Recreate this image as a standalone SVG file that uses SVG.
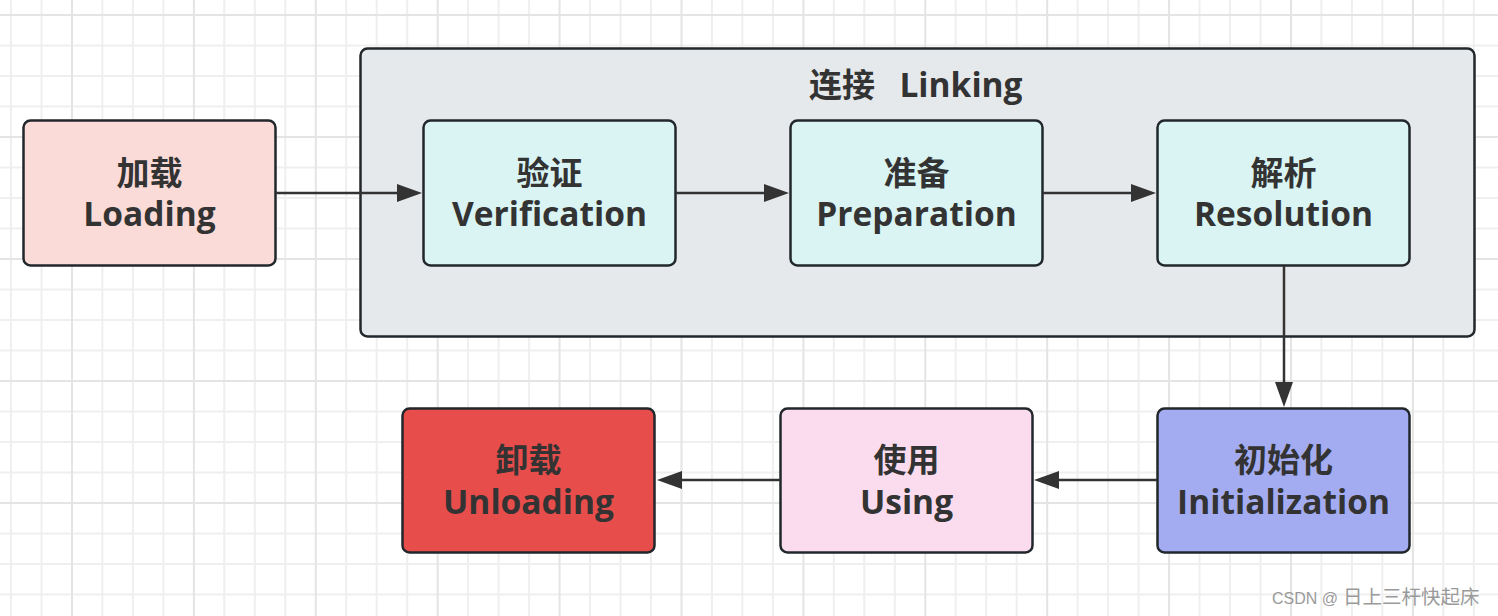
<svg xmlns="http://www.w3.org/2000/svg" width="1498" height="616" viewBox="0 0 1498 616">
<style>
.minor{stroke:#efefef;stroke-width:2;fill:none}
.major{stroke:#e4e4e4;stroke-width:2;fill:none}
.box{stroke:#22272b;stroke-width:2.5}
.t{font-family:"Open Sans","Noto Sans CJK SC",sans-serif;font-weight:700;font-size:33.5px;fill:#333333;text-anchor:middle}
.c{font-family:"Noto Sans CJK SC",sans-serif;font-weight:700;font-size:33px;fill:#333333;text-anchor:middle}
.conn{stroke:#333333;stroke-width:2.5;fill:none}
.wm{font-family:"Liberation Sans","Noto Sans CJK SC",sans-serif;font-size:16px;fill:#9a9a9a}
.wmc{font-family:"Noto Sans CJK SC",sans-serif;font-size:19.5px}
</style>
<defs>
<marker id="ah" markerUnits="userSpaceOnUse" markerWidth="26" markerHeight="20" viewBox="0 0 26 20" refX="1" refY="10" orient="auto">
<path d="M0,1 L25,10 L0,19 z" fill="#333333"/>
</marker>
</defs>
<rect width="1498" height="616" fill="#ffffff"/>
<g id="grid">
<path class="minor" d="M11,0V616M41.5,0V616M102.4,0V616M132.9,0V616M163.4,0V616M224.3,0V616M254.8,0V616M285.3,0V616M346.2,0V616M376.7,0V616M407.2,0V616M468.1,0V616M498.6,0V616M529.1,0V616M590,0V616M620.5,0V616M651,0V616M711.9,0V616M742.4,0V616M772.9,0V616M833.8,0V616M864.3,0V616M894.8,0V616M955.7,0V616M986.2,0V616M1016.7,0V616M1077.6,0V616M1108.1,0V616M1138.6,0V616M1199.5,0V616M1230,0V616M1260.5,0V616M1321.4,0V616M1351.9,0V616M1382.4,0V616M1443.3,0V616M1473.8,0V616M0,45.5H1498M0,76H1498M0,106.5H1498M0,167.5H1498M0,198H1498M0,228.5H1498M0,289.5H1498M0,320H1498M0,350.5H1498M0,411.5H1498M0,442H1498M0,472.5H1498M0,533.5H1498M0,564H1498M0,594.5H1498"/>
<path class="major" d="M72,0V616M193.9,0V616M315.8,0V616M437.7,0V616M559.6,0V616M681.5,0V616M803.4,0V616M925.3,0V616M1047.2,0V616M1169.1,0V616M1291,0V616M1412.9,0V616M0,15H1498M0,137H1498M0,259H1498M0,381H1498M0,503H1498"/>
</g>
<g id="linking">
<rect class="box" x="360.5" y="48.5" width="1114" height="288" rx="7" fill="#e6e9ec"/>
<text class="c" x="842" y="97">连接</text>
<text class="t" x="961" y="97">Linking</text>
</g>
<g id="loading">
<rect class="box" x="23.5" y="120.5" width="252" height="145" rx="7" fill="#fadbd8"/>
<text class="c" x="149.5" y="185">加载</text>
<text class="t" x="149.5" y="226">Loading</text>
</g>
<g id="verification">
<rect class="box" x="423.5" y="120.5" width="252" height="145" rx="7" fill="#d9f4f3"/>
<text class="c" x="549.5" y="185">验证</text>
<text class="t" x="549.5" y="226">Verification</text>
</g>
<g id="preparation">
<rect class="box" x="790.5" y="120.5" width="252" height="145" rx="7" fill="#d9f4f3"/>
<text class="c" x="916.5" y="185">准备</text>
<text class="t" x="916.5" y="226">Preparation</text>
</g>
<g id="resolution">
<rect class="box" x="1157.5" y="120.5" width="252" height="145" rx="7" fill="#d9f4f3"/>
<text class="c" x="1283.5" y="185">解析</text>
<text class="t" x="1283.5" y="226">Resolution</text>
</g>
<g id="unloading">
<rect class="box" x="402.5" y="408.5" width="252" height="144" rx="7" fill="#e74d4b"/>
<text class="c" x="528.5" y="472">卸载</text>
<text class="t" x="528.5" y="514">Unloading</text>
</g>
<g id="using">
<rect class="box" x="780.5" y="408.5" width="252" height="144" rx="7" fill="#fadcee"/>
<text class="c" x="906.5" y="472">使用</text>
<text class="t" x="906.5" y="514">Using</text>
</g>
<g id="initialization">
<rect class="box" x="1157.5" y="408.5" width="252" height="144" rx="7" fill="#a3acf1"/>
<text class="c" x="1283.5" y="472">初始化</text>
<text class="t" x="1283.5" y="514">Initialization</text>
</g>
<g id="connectors">
<path class="conn" d="M276,193H398" marker-end="url(#ah)"/>
<path class="conn" d="M676,193H765" marker-end="url(#ah)"/>
<path class="conn" d="M1043,193H1132" marker-end="url(#ah)"/>
<path class="conn" d="M1284,266V383" marker-end="url(#ah)"/>
<path class="conn" d="M1157,480H1058" marker-end="url(#ah)"/>
<path class="conn" d="M780,480H681" marker-end="url(#ah)"/>
</g>
<text class="wm" x="1272" y="604">CSDN @<tspan class="wmc" x="1343">日上三杆快起床</tspan></text>
</svg>
